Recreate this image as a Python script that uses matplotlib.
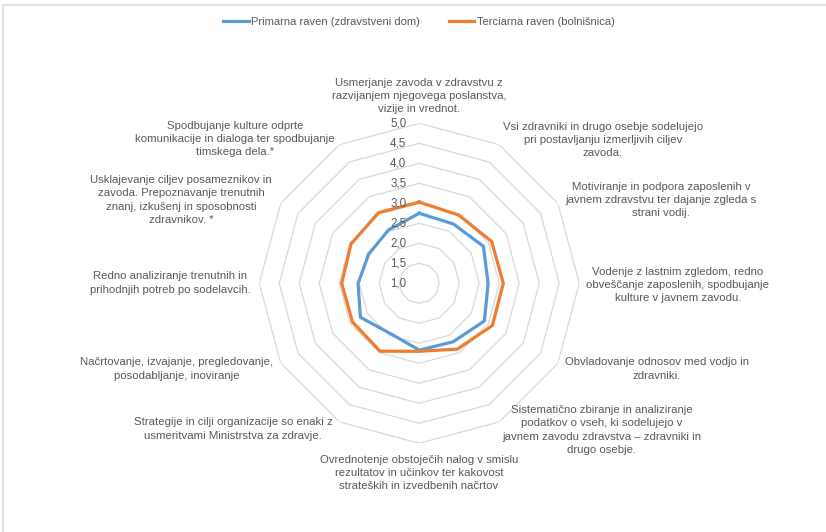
import numpy as np
import matplotlib
matplotlib.use("Agg")
import matplotlib.pyplot as plt
from matplotlib.lines import Line2D
import matplotlib.transforms as mtransforms

plt.rcParams['font.family'] = ['Liberation Sans', 'DejaVu Sans']

categories = [
    "Usmerjanje zavoda v zdravstvu z\nrazvijanjem njegovega poslanstva,\nvizije in vrednot.",
    "Vsi zdravniki in drugo osebje sodelujejo\npri postavljanju izmerljivih ciljev\nzavoda.",
    "Motiviranje in podpora zaposlenih v\njavnem zdravstvu ter dajanje zgleda s\nstrani vodij.",
    "Vodenje z lastnim zgledom, redno\nobveščanje zaposlenih, spodbujanje\nkulture v javnem zavodu.",
    "Obvladovanje odnosov med vodjo in\nzdravniki.",
    "Sistematično zbiranje in analiziranje\npodatkov o vseh, ki sodelujejo v\njavnem zavodu zdravstva – zdravniki in\ndrugo osebje.",
    "Ovrednotenje obstoječih nalog v smislu\nrezultatov in učinkov ter kakovost\nstrateških in izvedbenih načrtov",
    "Strategije in cilji organizacije so enaki z\nusmeritvami Ministrstva za zdravje.",
    "Načrtovanje, izvajanje, pregledovanje,\nposodabljanje, inoviranje",
    "Redno analiziranje trenutnih in\nprihodnjih potreb po sodelavcih.",
    "Usklajevanje ciljev posameznikov in\nzavoda. Prepoznavanje trenutnih\nznanj, izkušenj in sposobnosti\nzdravnikov. *",
    "Spodbujanje kulture odprte\nkomunikacije in dialoga ter spodbujanje\ntimskega dela.*",
]
primarna = [2.75, 2.71, 2.85, 2.72, 2.88, 2.69, 2.67, 2.45, 2.70, 2.53, 2.46, 2.54]
terciarna = [3.03, 2.97, 3.09, 3.10, 3.11, 2.90, 2.70, 2.96, 2.93, 2.94, 2.97, 3.04]
series_names = ["Primarna raven (zdravstveni dom)", "Terciarna raven (bolnišnica)"]
ticks = [1.0, 1.5, 2.0, 2.5, 3.0, 3.5, 4.0, 4.5, 5.0]
tick_labels = ["1,0", "1,5", "2,0", "2,5", "3,0", "3,5", "4,0", "4,5", "5,0"]

# label anchor positions in pixels (x, y from top) - layout only
label_pos = [(419, 96), (603, 140), (661, 200), (678, 285), (657, 369), (602, 430),
             (419, 473), (233, 429), (177, 369), (170, 283), (181, 200), (235, 139)]

W, H = 826, 532
fig = plt.figure(figsize=(W / 100, H / 100), dpi=100)

cx, cy, R = 419.3, 283.3, 160.0
ax = fig.add_axes([(cx - R) / W, (H - cy - R) / H, 2 * R / W, 2 * R / H], projection='polar')
ax.set_theta_offset(np.pi / 2)
ax.set_theta_direction(-1)
ax.set_ylim(1, 5)
ax.grid(False)
ax.set_xticks([])
ax.set_yticks([])
ax.spines['polar'].set_visible(False)
ax.patch.set_alpha(0)

n = len(categories)
theta = np.arange(n) * 2 * np.pi / n
theta_c = np.append(theta, theta[0])

grid_color = '#d9d9d9'
for t in ticks[1:]:
    ax.plot(theta_c, [t] * (n + 1), color=grid_color, lw=0.9, zorder=1)

blue = '#5B9BD5'
orange = '#ED7D31'
ax.plot(theta_c, primarna + primarna[:1], color=blue, lw=2.3, zorder=3, solid_joinstyle='round')
ax.plot(theta_c, terciarna + terciarna[:1], color=orange, lw=2.3, zorder=3, solid_joinstyle='round')

off = mtransforms.offset_copy(ax.transData, fig=fig, x=-13, y=0, units='dots')
for t, lab in zip(ticks, tick_labels):
    ax.text(0, t, lab, transform=off, ha='right', va='center', fontsize=8.3, color='#595959', zorder=4)

for lab, (x, y) in zip(categories, label_pos):
    fig.text(x / W, 1 - y / H, lab, ha='center', va='center', fontsize=8.2,
             color='#595959', linespacing=1.4, multialignment='center')

handles = [Line2D([0], [0], color=blue, lw=2.3), Line2D([0], [0], color=orange, lw=2.3)]
leg = fig.legend(handles, series_names, loc='center', bbox_to_anchor=(419 / W, 1 - 22 / H),
                 ncol=2, frameon=False, handlelength=2.3, handletextpad=0.2, columnspacing=2.6,
                 prop={'family': ['Liberation Sans Narrow', 'Liberation Sans'], 'size': 8.0})
for txt in leg.get_texts():
    txt.set_color('#595959')

# chart border
fig.add_artist(plt.Rectangle((3 / W, -0.05), 1.1, 1 - 5 / H + 0.05, transform=fig.transFigure,
                             fill=False, edgecolor='#e3e3e3', lw=1.5))

fig.savefig('out.png', dpi=100)
